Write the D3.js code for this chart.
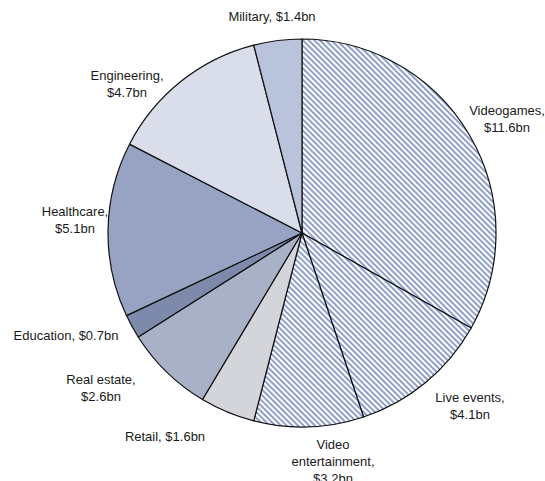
<!DOCTYPE html>
<html>
<head>
<meta charset="utf-8">
<script src="https://cdn.jsdelivr.net/npm/d3@7"></script>
<style>
  html, body { margin: 0; padding: 0; background: #fff; }
  svg { display: block; }
  text { font-family: "Liberation Sans", Arial, Helvetica, sans-serif; font-size: 13px; fill: #1a1a1a; }
</style>
</head>
<body>
<svg id="chart" width="545" height="481"></svg>
<script>
// Market size by sector, US$ billions, clockwise from 12 o'clock
const categories = ["Videogames", "Live events", "Video entertainment", "Retail", "Real estate", "Education", "Healthcare", "Engineering", "Military"];
const values = [11.6, 4.1, 3.2, 1.6, 2.6, 0.7, 5.1, 4.7, 1.4];
const labelLines = [
  ["Videogames,", "$11.6bn"],
  ["Live events,", "$4.1bn"],
  ["Video", "entertainment,", "$3.2bn"],
  ["Retail, $1.6bn"],
  ["Real estate,", "$2.6bn"],
  ["Education, $0.7bn"],
  ["Healthcare,", "$5.1bn"],
  ["Engineering,", "$4.7bn"],
  ["Military, $1.4bn"]
];
const hatched = ["Videogames", "Live events", "Video entertainment"];
const fills = ["#ffffff", "#ffffff", "#ffffff", "#d4d5db", "#a8b1c6", "#7d8aab", "#98a3c3", "#dadeeb", "#b9c3db"];

// label anchor: [x, baseline of first line]
const labelPos = [[507, 115], [470, 402], [333, 449], [165, 441], [101, 384], [66, 340], [75, 216], [127, 80], [272, 21]];

const W = 545, H = 481;
const cx = 302, cy = 233, R = 194;
const lineH = 17;

const svg = d3.select("#chart");

const defs = svg.append("defs");
const pat = defs.append("pattern")
  .attr("id", "hatch")
  .attr("patternUnits", "userSpaceOnUse")
  .attr("width", 4)
  .attr("height", 4)
  .attr("patternTransform", "rotate(-45)");
pat.append("rect").attr("width", 4).attr("height", 4).attr("fill", "#ffffff");
pat.append("rect").attr("x", 0).attr("y", 0).attr("width", 1.9).attr("height", 4).attr("fill", "#8a9bcb");

const pie = d3.pie().sort(null).value(d => d.value).startAngle(0).endAngle(2 * Math.PI);
const arc = d3.arc().innerRadius(0).outerRadius(R);

const data = categories.map((c, i) => ({ name: c, value: values[i], fill: fills[i], lines: labelLines[i], pos: labelPos[i] }));

const g = svg.append("g").attr("transform", `translate(${cx},${cy})`);
g.selectAll("path.slice")
  .data(pie(data))
  .join("path")
  .attr("class", "slice")
  .attr("d", arc)
  .attr("fill", d => hatched.includes(d.data.name) ? "url(#hatch)" : d.data.fill)
  .attr("stroke", "#111")
  .attr("stroke-width", 1.2)
  .attr("stroke-linejoin", "round");

const labels = svg.append("g").selectAll("text")
  .data(data)
  .join("text")
  .attr("text-anchor", "middle")
  .attr("x", d => d.pos[0])
  .attr("y", d => d.pos[1]);
labels.selectAll("tspan")
  .data(d => d.lines.map((t, j) => ({ t, j, x: d.pos[0] })))
  .join("tspan")
  .attr("x", d => d.x)
  .attr("dy", d => d.j === 0 ? 0 : lineH)
  .text(d => d.t);
</script>
</body>
</html>
